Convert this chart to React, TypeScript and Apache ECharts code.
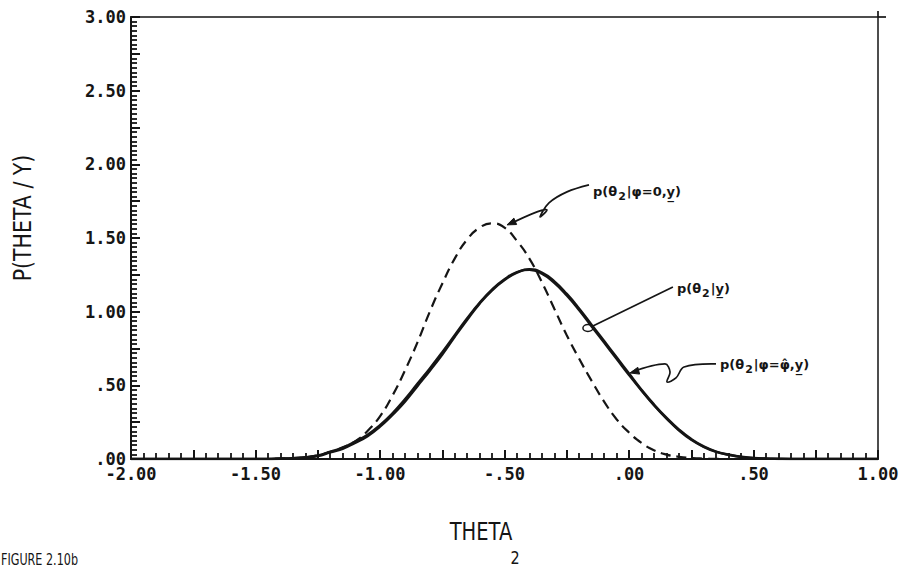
import React, { useEffect, useRef } from "react";
import * as echarts from "echarts";

// theta grid (x values), step 0.05 from -2.00 to 1.00
const theta = [
  -2.0, -1.95, -1.9, -1.85, -1.8, -1.75, -1.7, -1.65, -1.6, -1.55, -1.5, -1.45,
  -1.4, -1.35, -1.3, -1.25, -1.2, -1.15, -1.1, -1.05, -1.0, -0.95, -0.9, -0.85,
  -0.8, -0.75, -0.7, -0.65, -0.6, -0.55, -0.5, -0.45, -0.4, -0.35, -0.3, -0.25,
  -0.2, -0.15, -0.1, -0.05, 0.0, 0.05, 0.1, 0.15, 0.2, 0.25, 0.3, 0.35,
  0.4, 0.45, 0.5, 0.55, 0.6, 0.65, 0.7, 0.75, 0.8, 0.85, 0.9, 0.95, 1.0,
];

// p(theta2 | y)  (solid)
const pGivenY = [
  0, 0, 0, 0, 0, 0, 0, 0, 0, 0, 0, 0,
  0.002, 0.005, 0.01, 0.02, 0.045, 0.07, 0.11, 0.155, 0.22, 0.3, 0.39, 0.495,
  0.6, 0.71, 0.83, 0.945, 1.055, 1.145, 1.215, 1.265, 1.288, 1.265, 1.205, 1.12,
  1.02, 0.91, 0.8, 0.69, 0.58, 0.47, 0.37, 0.28, 0.2, 0.135, 0.085, 0.05,
  0.03, 0.015, 0.007, 0.003, 0.001, 0, 0, 0, 0, 0, 0, 0, 0,
];

// p(theta2 | phi = phi-hat, y)  (solid, nearly coincident)
const pGivenPhiHat = [
  0, 0, 0, 0, 0, 0, 0, 0, 0, 0, 0, 0,
  0.003, 0.006, 0.012, 0.024, 0.05, 0.076, 0.118, 0.165, 0.23, 0.31, 0.405, 0.51,
  0.615, 0.725, 0.84, 0.955, 1.06, 1.15, 1.22, 1.268, 1.284, 1.258, 1.195, 1.11,
  1.01, 0.9, 0.79, 0.68, 0.57, 0.465, 0.365, 0.275, 0.195, 0.13, 0.082, 0.048,
  0.028, 0.014, 0.006, 0.003, 0.001, 0, 0, 0, 0, 0, 0, 0, 0,
];

// p(theta2 | phi = 0, y)  (dashed)
const pGivenPhi0 = [
  0, 0, 0, 0, 0, 0, 0, 0, 0, 0, 0, 0,
  0.002, 0.005, 0.012, 0.025, 0.048, 0.08, 0.12, 0.19, 0.29, 0.43, 0.6, 0.79,
  1.0, 1.19, 1.36, 1.49, 1.57, 1.6, 1.57, 1.48, 1.36, 1.2, 1.02, 0.84,
  0.68, 0.53, 0.39, 0.27, 0.18, 0.11, 0.06, 0.03, 0.015, 0.007, 0.003, 0.001,
  0, 0, 0, 0, 0, 0, 0, 0, 0, 0, 0, 0, 0,
];

const xTickValues = [-2, -1.5, -1, -0.5, 0, 0.5, 1];
const xTickLabels = ["-2.00", "-1.50", "-1.00", "-.50", ".00", ".50", "1.00"];
const yTickValues = [0, 0.5, 1, 1.5, 2, 2.5, 3];
const yTickLabels = [".00", ".50", "1.00", "1.50", "2.00", "2.50", "3.00"];

const xAxisTitle = "THETA";
const xAxisSub = "2";
const yAxisTitle = "P(THETA / Y)";
const figureCaption = "FIGURE 2.10b";

const INK = "#151515";
const W = 915;
const H = 568;

function lookup(values: number[], labels: string[], v: number) {
  for (let i = 0; i < values.length; i++) {
    if (Math.abs(values[i] - v) < 1e-6) return labels[i];
  }
  return "";
}

function arrowHead(tip: number[], from: number[], len = 9, half = 3.5) {
  const dx = tip[0] - from[0];
  const dy = tip[1] - from[1];
  const d = Math.sqrt(dx * dx + dy * dy) || 1;
  const ux = dx / d, uy = dy / d;
  const nx = -uy, ny = ux;
  const bx = tip[0] - ux * len, by = tip[1] - uy * len;
  return [
    [tip[0], tip[1]],
    [bx + nx * half, by + ny * half],
    [bx - nx * half, by - ny * half],
  ];
}

export default function App() {
  const ref = useRef<HTMLDivElement>(null);
  useEffect(() => {
    const chart = echarts.init(ref.current!, null, { renderer: "svg" });
    const pairs = (v: number[]) => theta.map((t, i) => [t, v[i]]);
    const labelFont = {
      fontFamily: "'DejaVu Sans Mono', monospace",
      fontWeight: "bold" as const,
      fontSize: 17,
      color: INK,
    };
    chart.setOption({
      animation: false,
      backgroundColor: "#ffffff",
      grid: {
        left: 131,
        right: 37,
        top: 17,
        bottom: 109,
        show: true,
        borderColor: INK,
        borderWidth: 1.5,
        backgroundColor: "transparent",
      },
      xAxis: {
        type: "value",
        min: -2,
        max: 1,
        interval: 0.25,
        axisLine: { show: true, onZero: false, lineStyle: { color: INK, width: 2 } },
        axisTick: { show: true, inside: true, length: 9, lineStyle: { color: INK, width: 2 } },
        minorTick: { show: true, splitNumber: 5, length: 6, lineStyle: { color: INK, width: 1.8 } },
        splitLine: { show: false },
        axisLabel: {
          ...labelFont,
          margin: 6,
          formatter: (v: number) => lookup(xTickValues, xTickLabels, v),
        },
      },
      yAxis: {
        type: "value",
        min: 0,
        max: 3,
        interval: 0.25,
        axisLine: { show: true, onZero: false, lineStyle: { color: INK, width: 2 } },
        axisTick: { show: true, inside: true, length: 9, lineStyle: { color: INK, width: 2 } },
        minorTick: { show: true, splitNumber: 8, length: 6, lineStyle: { color: INK, width: 1.8 } },
        splitLine: { show: false },
        axisLabel: {
          ...labelFont,
          margin: 5,
          formatter: (v: number) => lookup(yTickValues, yTickLabels, v),
        },
      },
      series: [
        {
          name: "p(θ2|φ=0,y)",
          type: "line",
          data: pairs(pGivenPhi0),
          showSymbol: false,
          smooth: 0.5,
          lineStyle: { color: INK, width: 2.2, type: [10, 6] },
        },
        {
          name: "p(θ2|y)",
          type: "line",
          data: pairs(pGivenY),
          showSymbol: false,
          smooth: 0.5,
          lineStyle: { color: INK, width: 2.6 },
        },
        {
          name: "p(θ2|φ=φ̂,y)",
          type: "line",
          data: pairs(pGivenPhiHat),
          showSymbol: false,
          smooth: 0.5,
          lineStyle: { color: INK, width: 2.4 },
        },
      ],
    });

    const px = (p: number[]) => chart.convertToPixel({ gridIndex: 0 }, p) as number[];
    const rich = {
      a: { fontFamily: "'DejaVu Sans', sans-serif", fontWeight: "bold", fontSize: 13, fill: INK },
      s: {
        fontFamily: "'DejaVu Sans', sans-serif",
        fontWeight: "bold",
        fontSize: 11,
        fill: INK,
        padding: [10, 1, 0, 1],
      },
    };
    const line = (pts: number[][], smooth = 0.35) => ({
      type: "polyline",
      shape: { points: pts, smooth },
      style: { stroke: INK, lineWidth: 1.7, fill: null },
      silent: true,
    });
    const head = (tip: number[], from: number[]) => ({
      type: "polygon",
      shape: { points: arrowHead(tip, from) },
      style: { fill: INK, stroke: INK, lineWidth: 1 },
      silent: true,
    });
    const label = (x: number, y: number, text: string) => ({
      type: "text",
      x,
      y,
      style: { text, rich, verticalAlign: "middle", align: "left", fill: INK },
      silent: true,
    });

    // annotation 1 : dashed curve
    const t1 = px([-0.49, 1.589]);
    const off1 = [[82, -40], [60, -33], [42, -22], [33, -8], [40, -15], [30, -13], [3, -1]];
    const p1 = off1.map(([dx, dy]) => [t1[0] + dx, t1[1] + dy]);
    // annotation 2 : p(theta2|y)
    const t2 = px([-0.165, 0.889]);
    // annotation 3 : phi-hat curve
    const t3 = px([0.004, 0.584]);
    const off3 = [[2, -1], [35, -9], [40, -1], [37, 9], [46, 5], [54, -6], [86, -9]];
    const p3 = off3.map(([dx, dy]) => [t3[0] + dx, t3[1] + dy]);

    const corner = px([1, 3]);

    const graphics: any[] = [
      line(p1),
      head(t1, p1[p1.length - 2]),
      label(t1[0] + 86, t1[1] - 33, "{a|p(θ}{s|2}{a||φ=0,y\u0332)}"),
      {
        type: "ellipse",
        shape: { cx: t2[0], cy: t2[1], rx: 5, ry: 3.5 },
        style: { stroke: INK, lineWidth: 1.5, fill: null },
        silent: true,
      },
      line([[t2[0] + 5, t2[1] - 2], [t2[0] + 85, t2[1] - 41]], 0),
      label(t2[0] + 89, t2[1] - 40, "{a|p(θ}{s|2}{a||y\u0332)}"),
      line(p3),
      head(t3, p3[1]),
      label(t3[0] + 90, t3[1] - 8, "{a|p(θ}{s|2}{a||φ=φ\u0302,y\u0332)}"),
      line([[corner[0], corner[1]], [corner[0] + 8, corner[1]]], 0),
      line([[corner[0], corner[1] - 6], [corner[0], corner[1]]], 0),
      {
        type: "text",
        x: 22,
        y: 218,
        rotation: Math.PI / 2,
        scaleX: 0.82,
        style: {
          text: yAxisTitle,
          fill: INK,
          font: "25px 'DejaVu Sans', sans-serif",
          align: "center",
          verticalAlign: "middle",
        },
        silent: true,
      },
      {
        type: "text",
        x: 481,
        y: 531,
        scaleX: 0.78,
        style: {
          text: xAxisTitle,
          fill: INK,
          font: "25px 'DejaVu Sans', sans-serif",
          align: "center",
          verticalAlign: "middle",
        },
        silent: true,
      },
      {
        type: "text",
        x: 515,
        y: 558,
        scaleX: 0.8,
        style: {
          text: xAxisSub,
          fill: INK,
          font: "18px 'DejaVu Sans', sans-serif",
          align: "center",
          verticalAlign: "middle",
        },
        silent: true,
      },
      {
        type: "text",
        x: 1,
        y: 559,
        scaleX: 0.7,
        style: {
          text: figureCaption,
          fill: INK,
          font: "16px 'DejaVu Sans', sans-serif",
          align: "left",
          verticalAlign: "middle",
        },
        silent: true,
      },
    ];
    chart.setOption({ graphic: graphics });
    return () => chart.dispose();
  }, []);
  return (
    <div
      ref={ref}
      style={{ position: "fixed", left: 0, top: 0, width: W, height: H, background: "#fff" }}
    />
  );
}
